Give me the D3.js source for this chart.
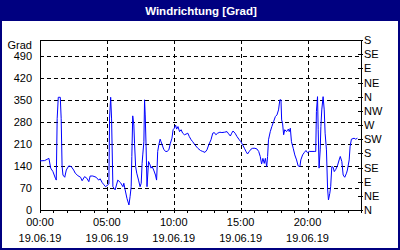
<!DOCTYPE html>
<html><head><meta charset="utf-8">
<script src="https://cdn.jsdelivr.net/npm/d3@7"></script>
<style>body{margin:0;background:#fff}svg{display:block}text{font-family:"Liberation Sans",Arial,sans-serif}</style>
</head><body><svg id="c" width="400" height="250"></svg>
<script>
const title = "Windrichtung [Grad]";
const yUnit = "Grad";
const leftTicks = [0,70,140,210,280,350,420,490];
const rightTickLabels = ["N","NE","E","SE","S","SW","W","NW","N","NE","E","SE","S"];
const xTickHours = [0,5,10,15,20];
const xDateLabel = "19.06.19";
// minutes since midnight
const times = [0,21,40,48,58,69,73,77,82,91,95,99,103,111,118,129,140,151,158,170,182,189,200,210,219,225,237,252,263,270,279,287,294,305,309,312,317,321,327,337,349,361,372,376,382,390,399,404,409,412,416,421,424,429,434,442,449,454,458,461,466,469,472,476,480,487,494,498,503,510,518,523,525,528,533,539,543,548,555,563,570,578,585,592,597,603,608,613,619,626,633,640,648,655,663,670,678,685,695,708,720,730,740,749,757,767,775,782,789,797,807,816,827,839,846,854,860,866,875,884,894,901,909,917,924,931,939,946,954,964,973,981,988,994,1000,1006,1011,1017,1021,1025,1033,1040,1048,1056,1063,1070,1076,1081,1084,1088,1093,1098,1106,1114,1118,1123,1128,1136,1143,1151,1158,1166,1170,1178,1185,1193,1200,1208,1230,1237,1240,1245,1248,1252,1257,1260,1264,1270,1275,1279,1285,1290,1294,1300,1304,1309,1315,1320,1327,1334,1342,1347,1354,1360,1367,1375,1379,1387,1391,1397,1409,1416,1424];
const values = [156,157,164,133,122,101,95,290,358,358,290,140,111,104,127,140,138,127,117,109,104,93,106,101,90,108,108,104,95,99,87,80,74,80,83,292,358,292,74,64,95,87,74,85,64,37,16,42,74,170,299,270,212,138,117,95,74,85,148,175,217,350,302,201,74,154,143,133,138,127,111,95,127,186,207,225,217,207,193,186,186,191,212,228,255,260,270,257,265,249,255,244,239,241,244,233,223,217,207,196,189,186,183,191,207,223,244,246,239,244,247,246,247,249,242,235,244,251,244,233,223,217,207,196,186,178,186,193,196,196,194,186,170,146,164,148,164,138,170,223,249,265,281,297,302,318,350,350,286,276,239,255,249,257,249,260,217,196,175,159,140,138,159,175,182,189,182,186,186,186,313,360,255,133,191,265,318,360,318,244,191,69,32,53,74,138,136,122,129,140,159,170,154,111,104,117,127,159,201,225,228,225,228];

const svg = d3.select("#c");
const W=400,H=250;
const navy="#000080";
svg.append("rect").attr("x",0).attr("y",0).attr("width",W).attr("height",H).attr("fill",navy);
svg.append("rect").attr("x",2).attr("y",21).attr("width",W-4).attr("height",H-23).attr("fill","#fff");
svg.append("text").attr("x",201).attr("y",14.5).attr("text-anchor","middle").attr("fill","#fff")
  .attr("font-weight","bold").attr("font-size","11.5px").text(title);

const L=40,R=361,T=40,B=210;
const x=d3.scaleLinear().domain([0,24*60]).range([L,R]);
const y=d3.scaleLinear().domain([0,540]).range([B,T]);

// grid
const g=svg.append("g").attr("stroke","#000").attr("stroke-dasharray","4,3").attr("shape-rendering","crispEdges");
leftTicks.filter(v=>v>0).forEach(v=>{
  g.append("line").attr("x1",L).attr("x2",R).attr("y1",Math.round(y(v))+0.5).attr("y2",Math.round(y(v))+0.5);
});
xTickHours.filter(h=>h>0).forEach(h=>{
  g.append("line").attr("x1",Math.round(x(h*60))+0.5).attr("x2",Math.round(x(h*60))+0.5).attr("y1",T).attr("y2",B);
});

// axes
const yl=d3.axisLeft(y).tickValues(leftTicks).tickSize(0).tickPadding(8);
svg.append("g").attr("transform",`translate(${L},0)`).call(yl)
  .call(a=>{a.select(".domain").remove();a.selectAll("text").attr("font-size","11px").attr("fill","#000").attr("font-family","Liberation Sans, Arial, sans-serif");});
const yr=d3.axisRight(y).tickValues(d3.range(0,541,45)).tickFormat((d,i)=>rightTickLabels[i]).tickSize(0).tickPadding(3);
svg.append("g").attr("transform",`translate(${R},0)`).call(yr)
  .call(a=>{a.select(".domain").remove();a.selectAll("text").attr("font-size","11px").attr("fill","#000").attr("font-family","Liberation Sans, Arial, sans-serif");});
// right ticks
const rt=svg.append("g").attr("stroke","#000").attr("shape-rendering","crispEdges");
d3.range(0,541,45).forEach(v=>{
  const yy=Math.round(y(v))+0.5;
  rt.append("line").attr("x1",R-3).attr("x2",R+2).attr("y1",yy).attr("y2",yy);
});
// bottom ticks every hour
d3.range(0,25).forEach(h=>{
  const xx=Math.round(x(h*60))+0.5;
  rt.append("line").attr("x1",xx).attr("x2",xx).attr("y1",B).attr("y2",B+3);
});
// frame
svg.append("rect").attr("x",L+0.5).attr("y",T+0.5).attr("width",R-L).attr("height",B-T)
  .attr("fill","none").attr("stroke","#000").attr("shape-rendering","crispEdges");

svg.append("text").attr("x",32).attr("y",49).attr("text-anchor","end").attr("font-size","11px").text(yUnit);

const xl=svg.append("g");
xTickHours.forEach(h=>{
  const xx=x(h*60);
  xl.append("text").attr("x",xx).attr("y",226).attr("text-anchor","middle").attr("font-size","11px")
    .text(String(h).padStart(2,"0")+":00");
  xl.append("text").attr("x",xx).attr("y",242).attr("text-anchor","middle").attr("font-size","11px")
    .text(xDateLabel);
});

const data=times.map((t,i)=>({t,v:values[i]}));
svg.append("path").datum(data).attr("fill","none").attr("stroke","#0000ff").attr("stroke-width",1)
  .attr("d",d3.line().x(d=>x(d.t)).y(d=>y(d.v)));
</script></body></html>
